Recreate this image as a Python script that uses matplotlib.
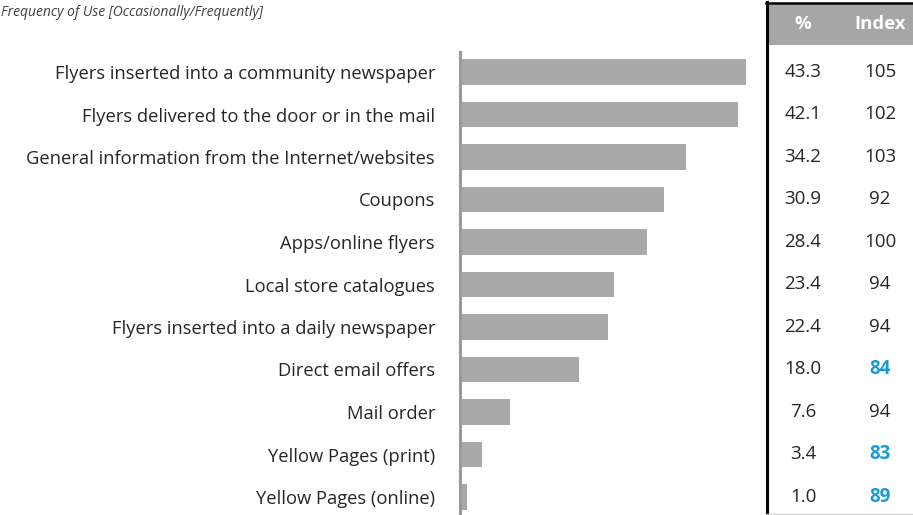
import matplotlib
matplotlib.use("Agg")
import matplotlib.pyplot as plt
from matplotlib.patches import Rectangle
from matplotlib.lines import Line2D

categories = [
    "Flyers inserted into a community newspaper",
    "Flyers delivered to the door or in the mail",
    "General information from the Internet/websites",
    "Coupons",
    "Apps/online flyers",
    "Local store catalogues",
    "Flyers inserted into a daily newspaper",
    "Direct email offers",
    "Mail order",
    "Yellow Pages (print)",
    "Yellow Pages (online)",
]
percent = [43.3, 42.1, 34.2, 30.9, 28.4, 23.4, 22.4, 18.0, 7.6, 3.4, 1.0]
index_vals = [105, 102, 103, 92, 100, 94, 94, 84, 94, 83, 89]
highlight = [False, False, False, False, False, False, False, True, False, True, True]

title = "Frequency of Use [Occasionally/Frequently]"
col_headers = ["%", "Index"]

FONT = "Open Sans"
W, H = 913, 515
DPI = 100
fig = plt.figure(figsize=(W / DPI, H / DPI), dpi=DPI)
fig.patch.set_facecolor("white")

def px_axes(x0, y0, x1, y1):
    return fig.add_axes([x0 / W, 1 - y1 / H, (x1 - x0) / W, (y1 - y0) / H])

row_px = 42.5
first_center = 72.0
n = len(categories)

# bar chart
ax = px_axes(460, 52, 766, 515)
ys = list(range(n))
ax.barh(ys, percent, height=0.6, color="#a9a9a9", left=0)
ax.set_xlim(0, (766 - 460) / 6.6)
top = -(first_center - 52) / row_px
bottom = (n - 1) + (515 - (first_center + row_px * (n - 1))) / row_px
ax.set_ylim(bottom, top)
for s in ["top", "right", "bottom"]:
    ax.spines[s].set_visible(False)
ax.spines["left"].set_color("#9a9a9a")
ax.spines["left"].set_linewidth(2.2)
ax.set_xticks([])
ax.set_yticks(ys)
ax.set_yticklabels(categories, fontfamily=FONT, fontsize=13.2, color="#262626")
ax.tick_params(axis="y", length=0, pad=18)

# data table
tab = px_axes(766, 0, W, 515)
tab.set_xlim(0, W - 766)
tab_top = top - 52 / row_px
tab.set_ylim(bottom, tab_top)
tab.axis("off")
hdr_top = top - (52 - 4) / row_px
hdr_bot = top - (52 - 45) / row_px
tab.add_patch(Rectangle((0, hdr_bot), W - 766, hdr_top - hdr_bot, facecolor="#a6a6a6",
                        edgecolor="none", clip_on=False))
hdr_y = (hdr_top + hdr_bot) / 2
col_x = [37, 114]
for cx, h in zip(col_x, col_headers):
    tab.text(cx, hdr_y, h, ha="center", va="center", fontfamily=FONT, fontsize=13.3,
             fontweight="bold", color="white")
for i in range(n):
    tab.text(col_x[0], i, f"{percent[i]:.1f}", ha="center", va="center",
             fontfamily=FONT, fontsize=13.5, color="#262626")
    if highlight[i]:
        tab.text(col_x[1], i, str(index_vals[i]), ha="center", va="center",
                 fontfamily=FONT, fontsize=13.5, fontweight="bold", color="#1a9ad6")
    else:
        tab.text(col_x[1], i, str(index_vals[i]), ha="center", va="center",
                 fontfamily=FONT, fontsize=13.5, color="#262626")

# table borders
fig.add_artist(Line2D([767 / W, 767 / W], [1 - 2 / H, 0], color="black", lw=2.2))
fig.add_artist(Line2D([766 / W, 1], [1 - 3 / H, 1 - 3 / H], color="black", lw=1.8))
fig.add_artist(Line2D([766 / W, 1], [1 - 513.5 / H, 1 - 513.5 / H], color="#cfcfcf", lw=1.0))

fig.text(1 / W, 1 - 13 / H, title, ha="left", va="center", fontfamily=FONT,
         fontsize=10, fontstyle="italic", color="#404040")

fig.savefig("out.png", dpi=DPI, facecolor="white")
